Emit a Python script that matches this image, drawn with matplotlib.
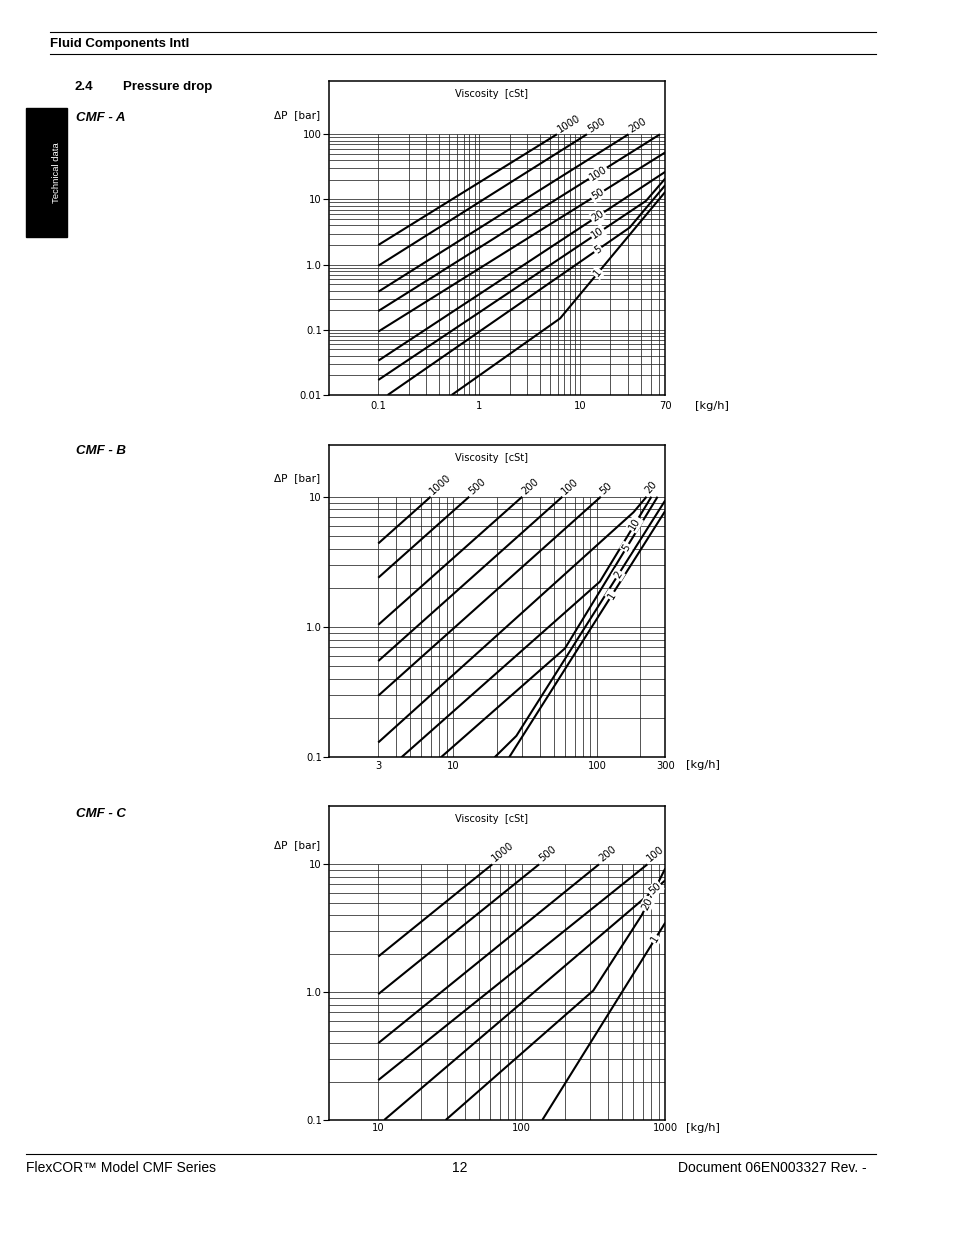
import numpy as np
import matplotlib
matplotlib.use('Agg')
import matplotlib.pyplot as plt
from matplotlib.ticker import NullLocator
from matplotlib.patches import Rectangle
from matplotlib.lines import Line2D

W, H = 954, 1235

# ---------------- CMF - A ----------------
a_visc = ['1000', '500', '200', '100', '50', '20', '10', '5', '1']
a_flow = [[0.1, 5.9], [0.1, 11.7], [0.1, 30.2], [0.1, 62], [0.1, 70], [0.1, 70],
          [0.1, 45, 70], [0.124, 31, 70], [0.534, 6.35, 70]]
a_dp = [[2.0, 100], [0.96, 100], [0.384, 100], [0.194, 100], [0.094, 52.8], [0.0336, 26.6],
        [0.017, 9.5, 21], [0.01, 3.7, 16.6], [0.01, 0.15, 13.1]]
a_xticks = [0.1, 1, 10, 70]
a_xticklabels = ['0.1', '1', '10', '70']
a_yticks = [0.01, 0.1, 1, 10, 100]
a_yticklabels = ['0.01', '0.1', '1.0', '10', '100']

# ---------------- CMF - B ----------------
b_visc = ['1000', '500', '200', '100', '50', '20', '10', '5', '2', '1']
b_flow = [[3, 6.95], [3, 12.9], [3, 30.2], [3, 57.5], [3, 106.6], [3, 180, 222],
          [4.35, 105, 240], [8.2, 60, 265], [19.4, 27.5, 300], [24.5, 300]]
b_dp = [[4.38, 10], [2.39, 10], [1.04, 10], [0.548, 10], [0.297, 10], [0.13, 7.6, 10],
        [0.1, 2.23, 10], [0.1, 0.686, 10], [0.1, 0.146, 9.4], [0.1, 7.8]]
b_xticks = [3, 10, 100, 300]
b_xticklabels = ['3', '10', '100', '300']
b_yticks = [0.1, 1, 10]
b_yticklabels = ['0.1', '1.0', '10']

# ---------------- CMF - C ----------------
c_visc = ['1000', '500', '200', '100', '50', '20', '1']
c_flow = [[10, 62.3], [10, 132], [10, 345], [10, 750], [11, 1000],
          [29.5, 315, 685, 1000], [139, 1000]]
c_dp = [[1.9, 10], [0.965, 10], [0.399, 10], [0.205, 10], [0.1, 7.5],
        [0.1, 1.03, 4.0, 9.3], [0.1, 3.5]]
c_xticks = [10, 100, 1000]
c_xticklabels = ['10', '100', '1000']
c_yticks = [0.1, 1, 10]
c_yticklabels = ['0.1', '1.0', '10']

# where the viscosity label sits on a curve (None = past the end of the line)
a_lab_x = [None, None, None, 15, 15, 15, 15, 15, 15]
b_lab_x = [None] * 6 + [184, 161, 141, 127]
c_lab_x = [None] * 4 + [848, 749, 848]


def decades(lo, hi):
    out = []
    for e in range(int(np.floor(np.log10(lo))), int(np.ceil(np.log10(hi))) + 1):
        for m in range(1, 10):
            v = m * 10.0 ** e
            if lo * 0.999 <= v <= hi * 1.001:
                out.append(v)
    return out


fig = plt.figure(figsize=(W / 100, H / 100), dpi=100)
plt.rcParams['font.family'] = ['DejaVu Sans']


def rect(left, top, right, bottom):
    return [left / W, 1 - bottom / H, (right - left) / W, (bottom - top) / H]


def seg_angle(ax, x0, y0, x1, y1):
    p0 = ax.transData.transform((x0, y0))
    p1 = ax.transData.transform((x1, y1))
    return np.degrees(np.arctan2(p1[1] - p0[1], p1[0] - p0[0]))


def draw_chart(r, xlim, ylim, gx, gy, xticks, xlabels, yticks, ylabels,
               flows, dps, names, lab_x, xpad, unit_off):
    ax = fig.add_axes(r)
    ax.set_xscale('log')
    ax.set_yscale('log')
    ax.set_xlim(xlim)
    ax.set_ylim(ylim)
    ax.vlines(gx, ylim[0], max(gy), color='0.15', lw=0.55, zorder=1)
    ax.hlines(gy, xlim[0], xlim[1], color='0.15', lw=0.55, zorder=1)

    for xs, ys, name, lx in zip(flows, dps, names, lab_x):
        ax.plot(xs, ys, color='k', lw=1.5, zorder=3, solid_capstyle='butt')
        if lx is None:
            ang = seg_angle(ax, xs[-2], ys[-2], xs[-1], ys[-1])
            t = np.radians(ang)
            off = (2.5 * np.cos(t) - 2 * np.sin(t), 2.5 * np.sin(t) + 2 * np.cos(t))
            ax.annotate(name, xy=(xs[-1], ys[-1]), xytext=off, textcoords='offset points',
                        rotation=ang, rotation_mode='anchor', ha='left', va='center',
                        fontsize=7.2, zorder=5, annotation_clip=False)
        else:
            lxs, lys = np.log10(xs), np.log10(ys)
            ly = 10 ** np.interp(np.log10(lx), lxs, lys)
            i = max(0, min(len(xs) - 2, np.searchsorted(xs, lx) - 1))
            ang = seg_angle(ax, xs[i], ys[i], xs[i + 1], ys[i + 1])
            ax.text(lx, ly, name, rotation=ang, rotation_mode='anchor', ha='center',
                    va='center', fontsize=7.2, zorder=5,
                    bbox=dict(boxstyle='square,pad=0.12', fc='white', ec='none'))

    ax.set_xticks(xticks, xlabels)
    ax.set_yticks(yticks, ylabels)
    ax.xaxis.set_minor_locator(NullLocator())
    ax.yaxis.set_minor_locator(NullLocator())
    ax.tick_params(axis='x', length=0, pad=xpad, labelsize=7.2)
    ax.tick_params(axis='y', direction='out', length=4.3, width=0.8, pad=1, labelsize=7.2)
    for s in ax.spines.values():
        s.set_linewidth(1.1)
    ax.text(0.483, 1 - 13 / 314, 'Viscosity  [cSt]', transform=ax.transAxes,
            ha='center', va='center', fontsize=7.1)
    ax.annotate('ΔP  [bar]', xy=(0, max(yticks)), xycoords=ax.get_yaxis_transform(),
                xytext=(-6.7, 13.7), textcoords='offset points', ha='right', va='center',
                fontsize=7.6, annotation_clip=False)
    ax.annotate('[kg/h]', xy=(1, 0), xycoords='axes fraction', xytext=unit_off,
                textcoords='offset points', ha='left', va='center', fontsize=8.2,
                annotation_clip=False)
    return ax


draw_chart(rect(329.3, 81, 665.3, 395), (0.0327, 70), (0.01, 657),
           decades(0.1, 70), decades(0.01, 100),
           a_xticks, a_xticklabels, a_yticks, a_yticklabels,
           a_flow, a_dp, a_visc, a_lab_x, 4.3, (21.4, -7.7))

draw_chart(rect(329.3, 444.7, 665.3, 757.3), (1.368, 300), (0.1, 25.1),
           decades(3, 300), decades(0.1, 10),
           b_xticks, b_xticklabels, b_yticks, b_yticklabels,
           b_flow, b_dp, b_visc, b_lab_x, 2.5, (14.9, -5.5))

draw_chart(rect(329.3, 806, 665.3, 1120), (4.56, 1000), (0.1, 28.6),
           decades(10, 1000), decades(0.1, 10),
           c_xticks, c_xticklabels, c_yticks, c_yticklabels,
           c_flow, c_dp, c_visc, c_lab_x, 2.5, (14.9, -5.8))

# ---------------- page furniture ----------------
def ftext(x, y, s, **kw):
    kw.setdefault('family', 'Liberation Sans')
    fig.text(x / W, 1 - y / H, s, **kw)


def hline(x0, x1, y, lw=0.8):
    fig.add_artist(Line2D([x0 / W, x1 / W], [1 - y / H, 1 - y / H], color='k', lw=lw))


hline(50, 876, 32)
hline(50, 876, 53.5)
hline(26, 876, 1154)
ftext(50, 44.5, 'Fluid Components Intl', fontsize=9.5, weight='bold', va='center')
ftext(75, 87, '2.4', fontsize=9.5, weight='bold', va='center')
ftext(123, 87, 'Pressure drop', fontsize=9.5, weight='bold', va='center')
ftext(76, 118, 'CMF - A', fontsize=9.5, weight='bold', style='italic', va='center')
ftext(76, 451, 'CMF - B', fontsize=9.5, weight='bold', style='italic', va='center')
ftext(76, 814, 'CMF - C', fontsize=9.5, weight='bold', style='italic', va='center')

fig.add_artist(Rectangle((26 / W, 1 - 237 / H), 41 / W, 129 / H,
                         transform=fig.transFigure, color='k'))
ftext(57, 172.5, 'Technical data', fontsize=6.8, color='white', rotation=90,
      ha='center', va='center')

ftext(26, 1168, 'FlexCOR™ Model CMF Series', fontsize=10, va='center')
ftext(459.5, 1168, '12', fontsize=10, va='center', ha='center')
ftext(867, 1168, 'Document 06EN003327 Rev. -', fontsize=10, va='center', ha='right')

fig.savefig('out.png', dpi=100)
